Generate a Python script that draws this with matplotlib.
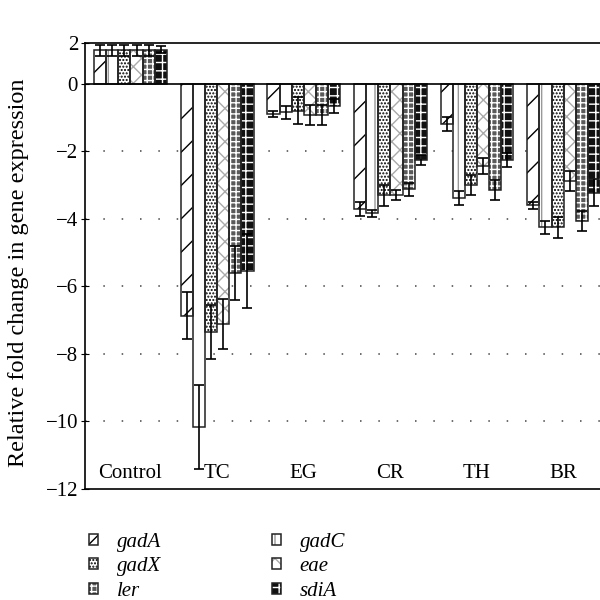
import matplotlib.pyplot as plt
import numpy as np
from matplotlib.scale import FuncScale

grupos = ['Control', 'TC', 'EG', 'CR', 'TH', 'BR']
genes = ['gadA', 'gadC', 'gadX', 'eae', 'ler', 'sdiA']

# valores por gen (uno por grupo)
gadA = [1.0, -6.87, -0.90, -3.72, -1.20, -3.60]
gadC = [1.0, -10.17, -0.85, -3.84, -3.39, -4.26]
gadX = [1.0, -7.36, -0.81, -3.31, -3.01, -4.26]
eae = [1.0, -7.12, -0.93, -3.31, -2.44, -2.88]
ler = [1.0, -5.60, -0.93, -3.13, -3.15, -4.07]
sdiA = [1.0, -5.55, -0.67, -2.26, -2.26, -3.23]

err_gadA = [0.17, 0.70, 0.10, 0.20, 0.20, 0.10]
err_gadC = [0.17, 1.25, 0.20, 0.10, 0.20, 0.20]
err_gadX = [0.17, 0.80, 0.40, 0.30, 0.30, 0.30]
err_eae = [0.17, 0.75, 0.30, 0.15, 0.25, 0.30]
err_ler = [0.17, 0.80, 0.30, 0.20, 0.30, 0.30]
err_sdiA = [0.10, 1.10, 0.20, 0.15, 0.20, 0.40]

valores = [gadA, gadC, gadX, eae, ler, sdiA]
errores = [err_gadA, err_gadC, err_gadX, err_eae, err_ler, err_sdiA]

# estilo: (cara, trama, color de trama)
estilos = [
    ('white', '/', 'black'),
    ('white', '|', '#999999'),
    ('white', '.....', 'black'),
    ('white', 'xx', '#aaaaaa'),
    ('#5a5a5a', '+++', 'white'),
    ('#111111', '++', 'white'),
]

plt.rcParams['font.family'] = ['Liberation Serif', 'DejaVu Serif']
plt.rcParams['hatch.linewidth'] = 1.0


# eje y comprimido por encima de 1.15 (como en la figura original)
def fwd(y):
    y = np.asarray(y, dtype=float)
    return np.where(y <= 1.15, y, 1.15 + (y - 1.15) * 0.059)


def inv(y):
    y = np.asarray(y, dtype=float)
    return np.where(y <= 1.15, y, 1.15 + (y - 1.15) / 0.059)


fig = plt.figure(figsize=(6, 6), dpi=100)
ax = fig.add_axes([85 / 600, 111 / 600, 522 / 600, 446 / 600])
ax.set_yscale(FuncScale(ax, (fwd, inv)))

x = np.arange(len(grupos))
w = 0.14
handles = []
for j, (vals, errs, (fc, hatch, hc)) in enumerate(zip(valores, errores, estilos)):
    pos = x + (j - 2.5) * w
    fondo = ax.bar(pos, vals, w, color=fc, hatch=hatch, edgecolor=hc,
                   linewidth=0, zorder=2)
    borde = ax.bar(pos, vals, w, facecolor='none', edgecolor='#222222',
                   linewidth=1.1, zorder=3)
    ax.errorbar(pos, vals, yerr=errs, fmt='none', ecolor='black',
                elinewidth=1.2, capsize=3.5, capthick=1.2, zorder=4)
    handles.append((fondo, borde))

for g in [-2, -4, -6, -8, -10]:
    ax.axhline(g, color='#444444', linestyle=(0, (1, 11)), linewidth=1.1, zorder=0)
ax.axhline(0, color='black', linewidth=1.2, zorder=5)

for i, g in enumerate(grupos):
    ax.text(i, -11.55, g, ha='center', va='center', fontsize=15)

ax.set_xlim(-0.525, 5.5)
ax.set_ylim(-12, 2)
ax.set_yticks([2, 0, -2, -4, -6, -8, -10, -12])
ax.set_yticklabels(['2', '0', '\u22122', '\u22124', '\u22126', '\u22128', '\u221210', '\u221212'])
ax.set_xticks([])
ax.tick_params(axis='y', direction='inout', length=6, labelsize=15, pad=2)
for s in ['left', 'bottom', 'top']:
    ax.spines[s].set_linewidth(1.2)
ax.spines['right'].set_visible(False)
ax.set_ylabel('Relative fold change in gene expression', fontsize=17.5)
ax.yaxis.set_label_coords(-0.108, 0.485)

# leyenda en filas: gadA gadC / gadX eae / ler sdiA
orden = [0, 2, 4, 1, 3, 5]
leg = fig.legend([handles[k] for k in orden], [genes[k] for k in orden],
                 ncol=2, loc='upper left',
                 bbox_to_anchor=(70 / 600, 1 - 514 / 600), frameon=False,
                 handlelength=0.45, handleheight=0.45, handletextpad=0.9,
                 columnspacing=5.3, labelspacing=0.26,
                 prop={'style': 'italic', 'size': 15})

fig.savefig('out.png', dpi=100)
